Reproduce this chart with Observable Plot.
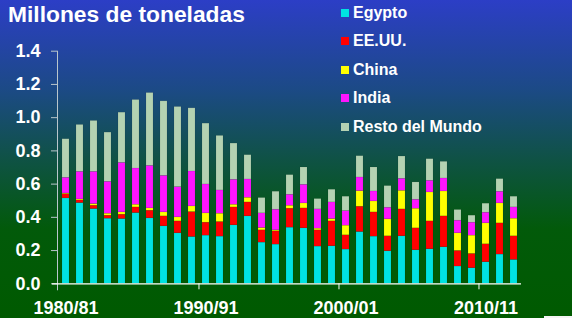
<!DOCTYPE html>
<html>
<head>
<meta charset="utf-8">
<script src="https://cdn.jsdelivr.net/npm/d3@7"></script>
<script src="https://cdn.jsdelivr.net/npm/@observablehq/plot@0.6"></script>
<style>
  html, body { margin: 0; padding: 0; }
  #wrap { position: relative; width: 572px; height: 318px; overflow: hidden;
    background: linear-gradient(to bottom, #2c3ec6 0%, #1c4a86 28%, #0f5245 50%, #025a0a 72%, #005a00 100%);
    font-family: "Liberation Sans", Arial, sans-serif; font-weight: bold; color: white; }
  #title { position: absolute; left: 8px; top: 0px; font-size: 22.8px; line-height: 28px; }
  #legend { position: absolute; left: 341px; top: 0px; }
  .item { position: absolute; left: 0; height: 20px; white-space: nowrap; font-size: 16px; line-height: 20px; }
  .sw { position: absolute; left: 0; top: 6px; width: 8px; height: 8px; }
  .lab { position: absolute; left: 12px; top: 0; }
  #chart { position: absolute; left: 0; top: 0; }
  #artifact { position: absolute; left: 544px; top: 316px; width: 28px; height: 2px; background: #f4f4f4; }
</style>
</head>
<body>
<div id="wrap">
  <div id="chart"></div>
  <div id="title"></div>
  <div id="legend"></div>
  <div id="artifact"></div>
</div>
<script>
const titleText = "Millones de toneladas";
const years = ["1980/81","1981/82","1982/83","1983/84","1984/85","1985/86","1986/87","1987/88","1988/89","1989/90",
  "1990/91","1991/92","1992/93","1993/94","1994/95","1995/96","1996/97","1997/98","1998/99","1999/00",
  "2000/01","2001/02","2002/03","2003/04","2004/05","2005/06","2006/07","2007/08","2008/09","2009/10",
  "2010/11","2011/12","2012/13"];
const xLabels = ["1980/81","1990/91","2000/01","2010/11"];
const xTickMarks = ["1990/91","2000/01","2010/11"];
const yTicks = [0, 0.2, 0.4, 0.6, 0.8, 1.0, 1.2, 1.4];

const seriesNames = ["Egypto","EE.UU.","China","India","Resto del Mundo"];
const seriesColors = ["#00e2e2","#ff0000","#ffff00","#ff14ff","#b4d2b2"];

const egypt = [.514,.486,.45,.392,.39,.426,.394,.346,.304,.282,.29,.284,.352,.406,.248,.236,.338,.334,.224,.226,.206,.312,.284,.196,.286,.202,.208,.22,.104,.094,.13,.176,.144];
const usa   = [.026,.016,.02,.018,.026,.034,.046,.06,.072,.15,.078,.088,.108,.084,.074,.08,.114,.12,.098,.15,.086,.152,.146,.09,.162,.132,.168,.186,.094,.086,.108,.188,.142];
const china = [.004,.006,.01,.012,.014,.016,.014,.024,.024,.034,.056,.05,.016,.028,.014,.006,.018,.03,.01,.014,.058,.094,.066,.102,.112,.118,.174,.15,.106,.11,.126,.12,.106];
const india = [.094,.166,.194,.192,.298,.218,.256,.22,.182,.21,.174,.14,.15,.11,.088,.124,.066,.112,.116,.10,.088,.082,.06,.07,.072,.054,.07,.078,.076,.078,.064,.07,.068];
const rest  = [.232,.282,.306,.296,.302,.412,.438,.448,.482,.38,.366,.328,.218,.146,.092,.108,.118,.104,.062,.076,.086,.128,.144,.13,.134,.104,.13,.10,.064,.042,.054,.076,.064];

const seriesValues = [egypt, usa, china, india, rest];
const data = years.flatMap((yr, i) => seriesNames.map((name, k) => ({year: yr, country: name, value: seriesValues[k][i]})));

const axisColor = "#b9c6cc";

const chart = Plot.plot({
  width: 572,
  height: 318,
  marginLeft: 57,
  marginRight: 51,
  marginTop: 50.7,
  marginBottom: 34.7,
  style: {background: "transparent", color: "white", fontFamily: "'Liberation Sans', Arial, sans-serif", fontWeight: "bold", fontSize: "18px", overflow: "visible"},
  x: {domain: years, paddingInner: 0.5, paddingOuter: 0.25, axis: null, label: null},
  y: {domain: [0, 1.4], axis: null, label: null},
  color: {domain: seriesNames, range: seriesColors},
  marks: [
    Plot.barY(data, {x: "year", y: "value", fill: "country", stroke: "#000", strokeOpacity: 0.12, strokeWidth: 0.6}),
    Plot.axisY({ticks: yTicks, tickFormat: d => d.toFixed(1), tickSize: 6, tickPadding: 11, stroke: axisColor, fill: "white", fontSize: 18, fontWeight: "bold", label: null}),
    Plot.frame({anchor: "left", stroke: axisColor, insetBottom: -6}),
    Plot.ruleY([0], {stroke: "white", strokeWidth: 1.2, insetLeft: -5}),
    Plot.ruleX(xTickMarks, {x: d => d, y1: 0, y2: 0, insetBottom: -6, dx: -7.03, stroke: "white"}),
    Plot.axisX({ticks: xLabels, tickSize: 0, tickPadding: 17, fill: "white", fontSize: 18, fontWeight: "bold", label: null})
  ]
});
document.getElementById("chart").appendChild(chart);

document.getElementById("title").textContent = titleText;
const legend = document.getElementById("legend");
seriesNames.forEach((name, k) => {
  const item = document.createElement("div");
  item.className = "item";
  item.style.top = (3 + k * 28.4) + "px";
  const sw = document.createElement("div");
  sw.className = "sw";
  sw.style.background = seriesColors[k];
  const lab = document.createElement("div");
  lab.className = "lab";
  lab.textContent = name;
  item.appendChild(sw);
  item.appendChild(lab);
  legend.appendChild(item);
});
</script>
</body>
</html>
